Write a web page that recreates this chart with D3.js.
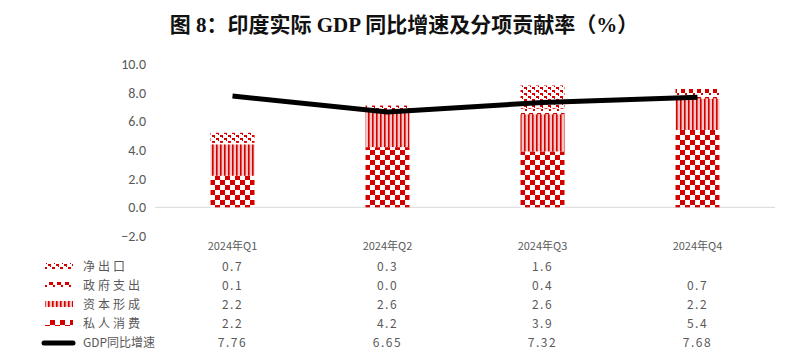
<!DOCTYPE html>
<html><head><meta charset="utf-8">
<script src="https://cdn.jsdelivr.net/npm/d3@7/dist/d3.min.js"></script>
<style>body{margin:0;background:#fff}</style>
</head><body>
<svg id="c" width="808" height="356"></svg>
<script>
const categories = ["2024年Q1","2024年Q2","2024年Q3","2024年Q4"];
const privateCons = [2.2, 4.2, 3.9, 5.4];
const capitalForm = [2.2, 2.6, 2.6, 2.2];
const govSpend = [0.1, 0.0, 0.4, 0.7];
const netExports = [0.7, 0.3, 1.6, null];
const gdpGrowth = [7.76, 6.65, 7.32, 7.68];
const yTicks = [-2, 0, 2, 4, 6, 8, 10];
const title = "图 8：印度实际 GDP 同比增速及分项贡献率（%）";

const seriesList = [
  {name:"净出口", values: netExports, pat:"pNet", fmt: d3.format(".1f")},
  {name:"政府支出", values: govSpend, pat:"pGov", fmt: d3.format(".1f")},
  {name:"资本形成", values: capitalForm, pat:"pCap", fmt: d3.format(".1f")},
  {name:"私人消费", values: privateCons, pat:"pPriv", fmt: d3.format(".1f")}
];
const stackOrder = [3,2,1,0]; // bottom to top

const svg = d3.select("#c");
const red = "#d40000";
const defs = svg.append("defs");
// checkerboard
let p = defs.append("pattern").attr("id","pPriv").attr("patternUnits","userSpaceOnUse").attr("width",10).attr("height",10);
p.append("rect").attr("width",10).attr("height",10).attr("fill","#fff");
p.append("rect").attr("width",5).attr("height",5).attr("fill",red);
p.append("rect").attr("x",5).attr("y",5).attr("width",5).attr("height",5).attr("fill",red);
// vertical stripes
p = defs.append("pattern").attr("id","pCap").attr("patternUnits","userSpaceOnUse").attr("width",4).attr("height",4);
p.append("rect").attr("width",4).attr("height",4).attr("fill","#f6c4c4");
p.append("rect").attr("width",1.6).attr("height",4).attr("fill",red);
// gov: small checks
p = defs.append("pattern").attr("id","pGov").attr("patternUnits","userSpaceOnUse").attr("width",8).attr("height",8);
p.append("rect").attr("width",8).attr("height",8).attr("fill","#fff");
p.append("rect").attr("x",1).attr("y",1).attr("width",4).attr("height",4).attr("fill",red);
p.append("rect").attr("x",5).attr("y",5).attr("width",2).attr("height",2).attr("fill",red);
// net exports: confetti dots
p = defs.append("pattern").attr("id","pNet").attr("patternUnits","userSpaceOnUse").attr("width",8).attr("height",6);
p.append("rect").attr("width",8).attr("height",6).attr("fill","#fff");
p.append("rect").attr("x",0).attr("y",0).attr("width",3).attr("height",2).attr("fill",red);
p.append("rect").attr("x",4).attr("y",3).attr("width",3).attr("height",2).attr("fill",red);
p.append("rect").attr("x",2).attr("y",2).attr("width",1).attr("height",1).attr("fill",red);
p.append("rect").attr("x",6).attr("y",5).attr("width",1).attr("height",1).attr("fill",red);

svg.append("text").attr("x",404).attr("y",32).attr("text-anchor","middle")
  .attr("font-family","'Liberation Serif','Noto Sans CJK SC',serif").attr("font-weight","bold")
  .attr("font-size",21).attr("fill","#111").text(title);

const x = d3.scaleBand().domain(categories).range([155,775]);
const y = d3.scaleLinear().domain([-2,10]).range([236,64]);
const barW = 44;

// y axis labels
const yAxis = d3.axisLeft(y).tickValues(yTicks).tickFormat(d3.format(".1f")).tickSize(0).tickPadding(0);
const ya = svg.append("g").attr("transform","translate(146,0)").call(yAxis);
ya.select(".domain").remove();
ya.selectAll("text").attr("font-family","Carlito,Calibri,'Liberation Sans',Arial,sans-serif").attr("font-size",14).attr("fill","#595959");

// zero line
svg.append("line").attr("x1",155).attr("x2",775).attr("y1",y(0)).attr("y2",y(0)).attr("stroke","#d9d9d9").attr("stroke-width",1);

// stacked bars
categories.forEach((c,i)=>{
  let base = 0;
  stackOrder.forEach(si=>{
    const s = seriesList[si];
    const v = s.values[i];
    if (v == null || v <= 0) return;
    svg.append("rect").attr("x",x(c)+x.bandwidth()/2-barW/2).attr("width",barW)
      .attr("y",y(base+v)).attr("height",y(base)-y(base+v)).attr("fill",`url(#${s.pat})`);
    base += v;
  });
});

// line
const line = d3.line().x((d,i)=>x(categories[i])+x.bandwidth()/2).y(d=>y(d));
svg.append("path").datum(gdpGrowth).attr("d",line).attr("fill","none").attr("stroke","#000").attr("stroke-width",5).attr("stroke-linejoin","round");

// category labels
const tf = "'Noto Sans CJK SC','DejaVu Sans',sans-serif";
svg.selectAll(".cat").data(categories).enter().append("text")
  .attr("x",d=>x(d)+x.bandwidth()/2).attr("y",250).attr("text-anchor","middle")
  .attr("font-family",tf).attr("font-size",11).attr("fill","#595959").text(d=>d);

// table
const rowY = [271, 290, 309, 328, 347];
seriesList.forEach((s,ri)=>{
  const yy = rowY[ri];
  svg.append("rect").attr("x",45).attr("y",yy-8).attr("width",28).attr("height",6).attr("fill",`url(#${s.pat})`);
  svg.append("text").attr("x",83).attr("y",yy).attr("font-family",tf).attr("font-size",12).attr("letter-spacing",3).attr("fill","#595959").text(s.name);
  s.values.forEach((v,i)=>{
    if (v==null) return;
    svg.append("text").attr("x",x(categories[i])+x.bandwidth()/2).attr("y",yy).attr("text-anchor","middle")
      .attr("font-family",tf).attr("font-size",12).attr("letter-spacing",1.5).attr("fill","#595959").text(s.fmt(v));
  });
});
const gy = rowY[4];
svg.append("line").attr("x1",44).attr("x2",73).attr("y1",gy-4).attr("y2",gy-4).attr("stroke","#000").attr("stroke-width",5).attr("stroke-linecap","round");
svg.append("text").attr("x",83).attr("y",gy).attr("font-family",tf).attr("font-size",12).attr("fill","#595959").text("GDP同比增速");
gdpGrowth.forEach((v,i)=>{
  svg.append("text").attr("x",x(categories[i])+x.bandwidth()/2).attr("y",gy).attr("text-anchor","middle")
    .attr("font-family",tf).attr("font-size",12).attr("letter-spacing",1.5).attr("fill","#595959").text(d3.format(".2f")(v));
});
</script>
</body></html>
